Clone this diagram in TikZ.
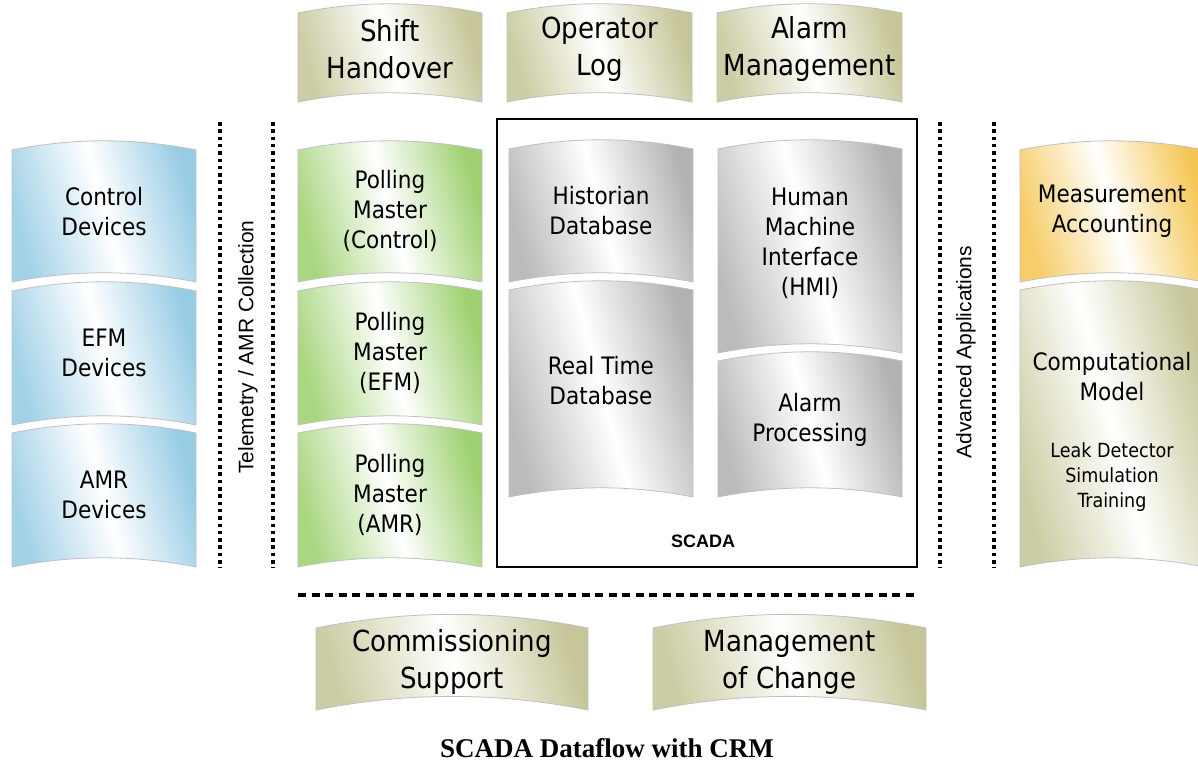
\documentclass[tikz,border=0pt]{standalone}
\usepackage{fontspec}
\usepackage{xcolor}
\usetikzlibrary{positioning}

\newfontfamily\panelfont{DejaVu Sans Condensed}
\newfontfamily\arialfont{Liberation Sans}
\newfontfamily\titlefont{Liberation Serif}

\definecolor{devblue}{RGB}{140,198,226}
\definecolor{pollgreen}{RGB}{148,204,98}
\definecolor{scadagrey}{RGB}{170,170,170}
\definecolor{appkhaki}{RGB}{192,192,142}
\definecolor{acctgold}{RGB}{244,192,66}

\tikzset{
  panel/.style={draw=black!25, line width=0.8pt},
  panel text/.style={font=\panelfont\fontsize{24}{30}\selectfont, align=center, text=black},
  big text/.style={font=\panelfont\fontsize{29}{37}\selectfont},
  small text/.style={font=\panelfont\fontsize{19.5}{25}\selectfont, align=center, text=black},
  side label/.style={font=\arialfont\fontsize{21}{25}\selectfont, rotate=90},
  sep line/.style={line width=3.5pt, dash pattern=on 3.5pt off 3.8pt},
  sep dash/.style={line width=3.5pt, dash pattern=on 8pt off 5.5pt}
}

% banner shaped panel: [node options]{name}{colour}{x}{y}{width}{height}{text}
\newcommand{\drawpanel}[8][]{%
  \pgfmathsetmacro{\pnlsag}{#6/15}
  \path[panel, left color=#3!80!white, right color=#3!90!white, middle color=white, shading angle=105]
    (#4,#5) .. controls ({#4+#6/3},{#5-\pnlsag}) and ({#4+2*#6/3},{#5-\pnlsag}) .. ({#4+#6},#5)
    -- ({#4+#6},{#5+#7})
    .. controls ({#4+2*#6/3},{#5+#7-\pnlsag}) and ({#4+#6/3},{#5+#7-\pnlsag}) .. (#4,{#5+#7})
    -- cycle;
  \node[panel text, #1] (#2) at ({#4+#6/2},{#5+#7/2-#6/40}) {#8};
}

\begin{document}
\begin{tikzpicture}[x=1pt, y=-1pt]
\useasboundingbox (0,0) rectangle (1198,768);

% top row
\drawpanel[big text, yshift=4pt]{shifthand}{appkhaki}{298}{13}{184}{89}{Shift\\Handover}
\drawpanel[big text, yshift=4pt]{oplog}{appkhaki}{507}{13}{185}{89}{Operator\\Log}
\drawpanel[big text, yshift=4pt]{alarmmgmt}{appkhaki}{717}{13}{185}{89}{Alarm\\Management}

% field devices
\drawpanel{ctrldev}{devblue}{12}{150}{184}{132}{Control\\Devices}
\drawpanel{efmdev}{devblue}{12}{291}{184}{134}{EFM\\Devices}
\drawpanel{amrdev}{devblue}{12}{433}{184}{134}{AMR\\Devices}

% polling masters
\drawpanel{pollctrl}{pollgreen}{298}{150}{184}{132}{Polling\\Master\\(Control)}
\drawpanel{pollefm}{pollgreen}{298}{291}{184}{134}{Polling\\Master\\(EFM)}
\drawpanel{pollamr}{pollgreen}{298}{433}{184}{134}{Polling\\Master\\(AMR)}

% SCADA
\draw[line width=1.8pt] (497,119) rectangle (917,567);
\drawpanel{histdb}{scadagrey}{509}{149}{184}{133}{Historian\\Database}
\drawpanel[yshift=8pt]{rtdb}{scadagrey}{509}{290}{184}{207}{Real Time\\Database}
\drawpanel[yshift=3pt]{hmi}{scadagrey}{718}{149}{184}{204}{Human\\Machine\\Interface\\(HMI)}
\drawpanel[yshift=5pt]{alarmproc}{scadagrey}{718}{361}{184}{136}{Alarm\\Processing}
\node[font=\arialfont\bfseries\fontsize{18}{20}\selectfont] (scada) at (703,541) {SCADA};

% applications
\drawpanel{measacct}{acctgold}{1020}{150}{184}{132}{Measurement\\Accounting}
\drawpanel[yshift=47pt]{compmodel}{appkhaki}{1020}{290}{184}{277}{Computational\\Model}
\node[small text] (leakdet) at ([yshift=-100pt]compmodel.center) {Leak Detector\\Simulation\\Training};

% separators
\draw[sep line] (220,122) -- (220,568);
\draw[sep line] (273,122) -- (273,568);
\draw[sep line] (940,122) -- (940,568);
\draw[sep line] (994,122) -- (994,568);
\draw[sep dash] (298,595) -- (916,595);
\node[side label] (telemetry) at (248,347) {Telemetry / AMR Collection};
\node[side label] (advapps) at (966,352) {Advanced Applications};

% bottom row
\drawpanel[big text]{commsup}{appkhaki}{316}{628}{272}{82}{Commissioning\\Support}
\drawpanel[big text]{mgmtchange}{appkhaki}{653}{628}{273}{82}{Management\\of Change}

\node[font=\titlefont\bfseries\fontsize{27}{30}\selectfont] (title) at (607,748) {SCADA Dataflow with CRM};
\end{tikzpicture}
\end{document}
